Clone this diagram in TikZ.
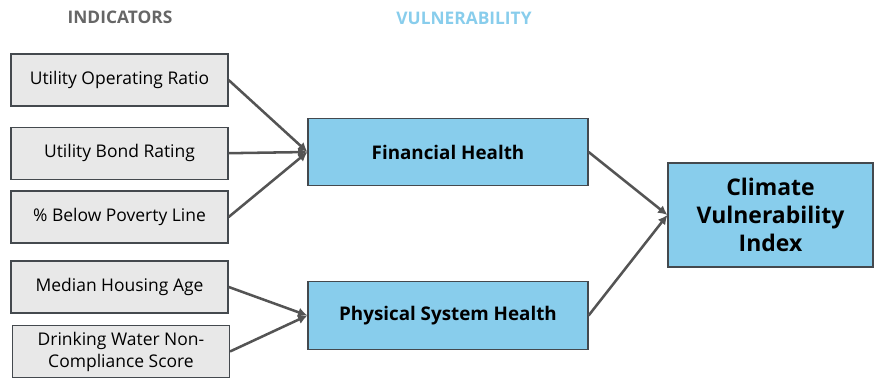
\documentclass[tikz,border=0pt]{standalone}
\usepackage{fontspec}
\setmainfont{Open Sans}
\usetikzlibrary{positioning, arrows.meta}

\definecolor{boxgray}{HTML}{E8E8E8}
\definecolor{edgegray}{HTML}{44494E}
\definecolor{skyfill}{HTML}{88CDEC}
\definecolor{arrowgray}{HTML}{545454}
\definecolor{headgray}{HTML}{666666}

\begin{document}
\begin{tikzpicture}[
    x=0.75pt, y=-0.75pt,
    node distance=15pt,
    indicator/.style = {rectangle, draw=edgegray, line width=0.9pt, fill=boxgray, align=center,
        minimum width=162.75pt, minimum height=39pt, inner sep=2pt, font=\fontsize{13.1}{16.5}\selectfont},
    vuln/.style = {rectangle, draw=edgegray, line width=0.9pt, fill=skyfill, align=center,
        minimum width=210pt, minimum height=50.5pt, font=\fontsize{14.1}{17}\selectfont\bfseries},
    index/.style = {vuln, minimum width=153.75pt, minimum height=78pt, font=\fontsize{17.2}{21}\selectfont\bfseries},
    header/.style = {font=\fontsize{13}{15}\selectfont\bfseries},
    arrow/.style = {-{Latex[length=7pt,width=7pt]}, line width=1.9pt, draw=arrowgray}
]
\useasboundingbox (0,0) rectangle (875,379);

% Column headings
\node[header, text=headgray] (indhead) at (120,17) {INDICATORS};
\node[header, text=skyfill] (vulnhead) at (464,18) {VULNERABILITY};

% Indicator boxes in a vertical column
\node[indicator] (opratio) at (119.5,80) {Utility Operating Ratio};
\node[indicator, below=15pt of opratio] (bond) {Utility Bond Rating};
\node[indicator, below=8pt of bond] (poverty) {\% Below Poverty Line};
\node[indicator, below=12.5pt of poverty] (housing) {Median Housing Age};
\node[indicator, below=8.5pt of housing, xshift=1.1pt] (water) {Drinking Water Non-\\Compliance Score};

% Vulnerability components
\node[vuln] (financial) at (448,152) {Financial Health};
\node[vuln] (physical) at (448,315.5) {Physical System Health};

% Final index
\node[index] (cvi) at (770.5,215) {Climate\\Vulnerability\\Index};

% Arrows into the components
\draw[arrow] (opratio.east) -- (financial.west);
\draw[arrow] (bond.east) -- (financial.west);
\draw[arrow] (poverty.east) -- (financial.west);
\draw[arrow] (housing.east) -- (physical.west);
\draw[arrow] (water.east) -- (physical.west);

% Arrows into the index
\draw[arrow] (financial.east) -- (cvi.west);
\draw[arrow] (physical.east) -- (cvi.west);

\end{tikzpicture}
\end{document}
